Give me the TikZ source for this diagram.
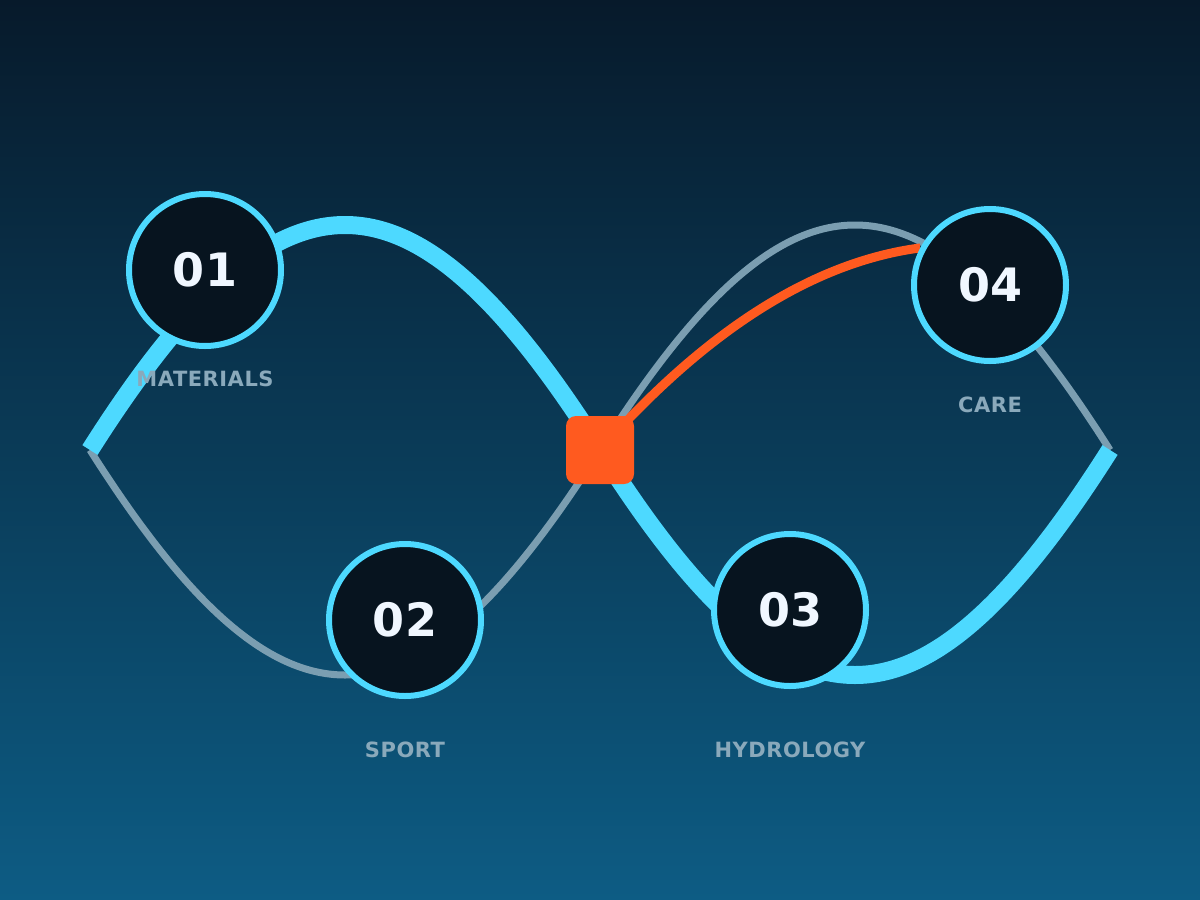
\documentclass[tikz,border=0pt]{standalone}
\usepackage{fontspec}
\setmainfont{DejaVu Sans}
\newfontfamily\capfont{DejaVu Sans}[LetterSpace=2.5]
\pgfdeclarelayer{bgfill}
\pgfdeclarelayer{curves}
\pgfsetlayers{bgfill,curves,main}
\definecolor{cyanline}{HTML}{4DD9FF}
\definecolor{greyline}{HTML}{7B9EB1}
\definecolor{nodefill}{HTML}{07141F}
\definecolor{numtext}{HTML}{F0F7FF}
\definecolor{labeltext}{HTML}{8AA9BB}
\definecolor{hubfill}{HTML}{FF5A1F}
\definecolor{bgtop}{HTML}{071A2B}
\definecolor{bgbot}{HTML}{0D5C84}
\tikzset{
  stage/.style={circle, draw=cyanline, line width=6pt, fill=nodefill, minimum size=152pt, inner sep=0pt, text=numtext, font=\fontsize{46}{46}\selectfont\bfseries},
  caption/.style={text=labeltext, font=\capfont\fontsize{21}{21}\selectfont\bfseries, inner sep=0pt},
  hubbox/.style={rectangle, rounded corners=10pt, fill=hubfill, minimum size=68pt, inner sep=0pt},
  thickpath/.style={draw=cyanline, line width=18pt},
  thinpath/.style={draw=greyline, line width=7pt},
  accent/.style={draw=hubfill, line width=9pt},
}
\begin{document}
\begin{tikzpicture}[x=1pt,y=-1pt]
\begin{pgfonlayer}{bgfill}
  \fill[top color=bgtop, bottom color=bgbot] (0,0) rectangle (1200,900);
\end{pgfonlayer}
\useasboundingbox (0,0) rectangle (1200,900);

\node[stage] (n1) at (205,270) {01};
\node[stage] (n2) at (405,620) {02};
\node[stage] (n3) at (790,610) {03};
\node[stage] (n4) at (990,285) {04};
\node[hubbox] (hub) at (600,450) {};
\coordinate (L) at (90,450);
\coordinate (R) at (1110,450);

\node[caption] (t1) at (205,379) {MATERIALS};
\node[caption] (t2) at (405,749.5) {SPORT};
\node[caption] (t3) at (790,750) {HYDROLOGY};
\node[caption] (t4) at (990,404.5) {CARE};

\begin{pgfonlayer}{curves}
  \draw[thinpath] (L) .. controls (280,750) and (410,750) .. (hub.center);
  \draw[thinpath] (hub.center) .. controls (790,150) and (920,150) .. (R);
  \draw[thickpath] (L) .. controls (280,150) and (410,150) .. (hub.center);
  \draw[thickpath] (hub.center) .. controls (790,750) and (920,750) .. (R);
  \draw[accent] (hub.center) .. controls (680,360) and (790,265) .. (n4.152);
\end{pgfonlayer}
\end{tikzpicture}
\end{document}
